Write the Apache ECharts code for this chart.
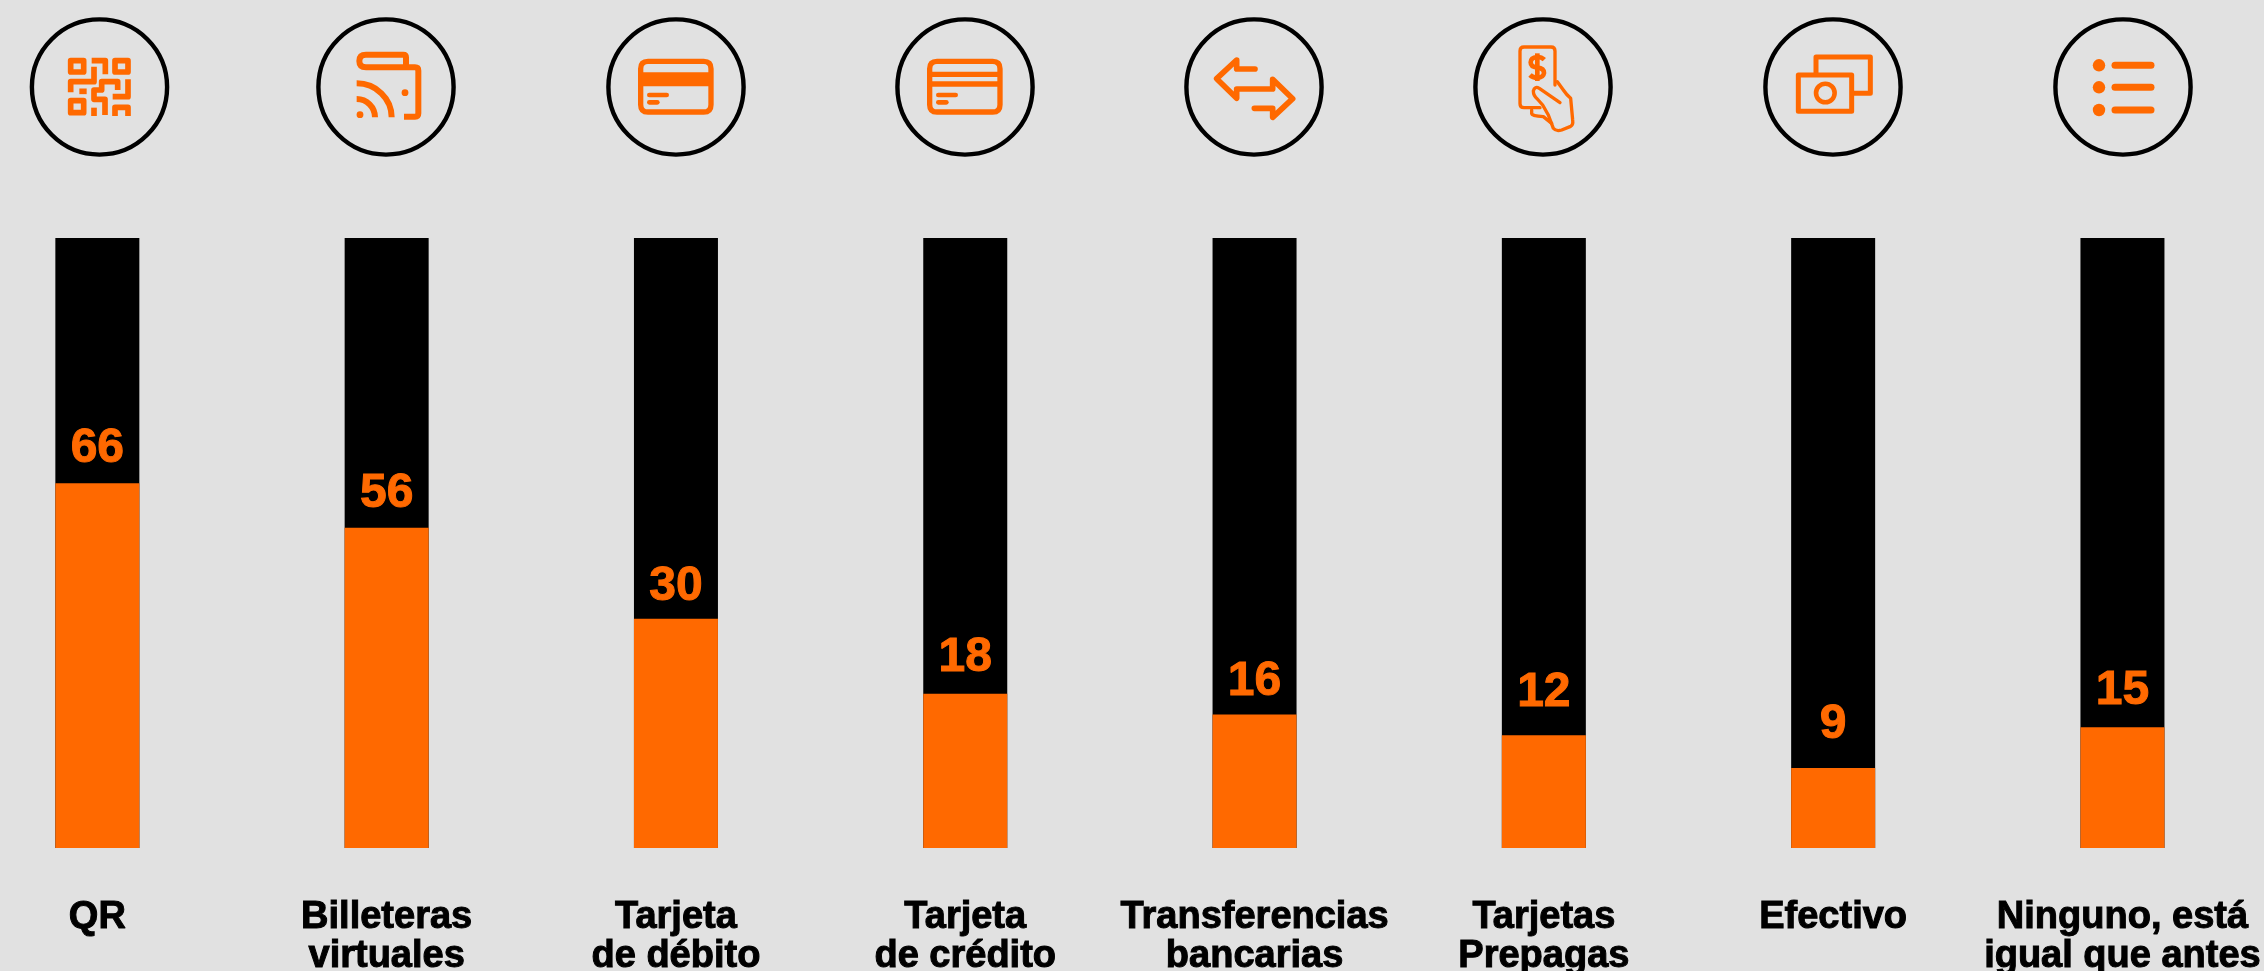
<!DOCTYPE html>
<html><head><meta charset="utf-8">
<style>html,body{margin:0;padding:0;background:#e1e1e1}#c{width:2264px;height:971px}</style>
<script src="https://cdn.jsdelivr.net/npm/echarts@6/dist/echarts.min.js"></script>
</head><body><div id="c"></div>
<script>
const categories = ['QR','Billeteras\nvirtuales','Tarjeta\nde débito','Tarjeta\nde crédito','Transferencias\nbancarias','Tarjetas\nPrepagas','Efectivo','Ninguno, está\nigual que antes'];
// Printed figures on the chart
const printedValues = [66,56,30,18,16,12,9,15];
// Drawn orange share of each column (the source's bars are not proportional to the printed figures)
const drawnFill = [59.8,52.5,37.6,25.3,21.9,18.5,13.1,19.8];
const columnTotal = [100,100,100,100,100,100,100,100];
// Downward nudge of each printed figure relative to the top of its orange part (px)
const labelNudge = [2,2,4,0,3,-6,-7,0];

const ORANGE = '#ff6900', BLACK = '#000000', BG = '#e1e1e1';
const iconCentersX = [99.5,386,676,965,1254,1543,1833,2123];
const iconCenterY = 87;

const QR = ['M62 62H101V96H62Z','M195 62H234V96H195Z','M62 182H101V218H62Z','M125 62H166V103','M132 80V125H62V157','M88 154H110',
  'M203 150V125H155V150H132V178H165V225','M234 118V170H188','M195 228V202H234V228','M132 203V228'];
const WALLET = ['M198 82V52Q198 44 190 44H78Q58 44 58 63Q58 82 78 82H225Q235 82 235 92V220Q235 230 225 230H192',
  'M50 130A105 102 0 0 1 155 232','M50 177A55 55 0 0 1 105 232'];
const CARD_OUT = 'M54 34H221Q243 34 243 56V164Q243 186 221 186H54Q32 186 32 164V56Q32 34 54 34Z';
const ARROWS = ['M165 87H110V60L50 116L110 175V147H218V118L278 176L218 232V205H163'];
const HAND = ['M120 218H72Q60 218 60 206V48Q60 36 72 36H153Q165 36 165 48V150',
  'M180 203L118 160Q104 152 100 168Q100 182 112 192L128 210L145 240L160 280Q168 290 185 285L212 274Q220 270 218 255L212 190Q200 180 190 165L172 140',
  'M95 225V236Q96 243 130 245L155 265'];
const DOLLAR = ['M133 74Q125 66 112 66Q92 68 92 82Q92 96 112 98Q132 100 132 114Q130 128 112 128Q98 128 90 120','M112 55V138'];
const CASH = ['M93 90V36H256V145H205','M40 90H200V199H40Z'];

const shapeNames = new Map();
function shapeFor(d){
  if(!shapeNames.has(d)){
    const name = 'iconPath' + shapeNames.size;
    echarts.graphic.registerShape(name, echarts.graphic.extendPath(d, {}));
    shapeNames.set(d, name);
  }
  return shapeNames.get(d);
}
function strokes(paths, ox, oy, lw, cap){
  return paths.map(p => ({type:shapeFor(p), x:ox, y:oy, scaleX:1/3, scaleY:1/3, silent:true,
    style:{fill:null, stroke:ORANGE, lineWidth:lw, lineCap:cap||'butt', lineJoin:'round'}}));
}
function dots(list, ox, oy, r){
  return list.map(d => ({type:'circle', silent:true, shape:{cx:ox+d[0]/3, cy:oy+d[1]/3, r:r}, style:{fill:ORANGE}}));
}
const g = [];
iconCentersX.forEach(cx => g.push({type:'circle', silent:true, shape:{cx, cy:iconCenterY, r:67.6}, style:{fill:null, stroke:BLACK, lineWidth:4.4}}));
g.push(...strokes(QR,50,40,17));
g.push(...strokes(WALLET,340,40,18), ...dots([[195,158],[60,224]],340,40,3.4));
g.push(...strokes([CARD_OUT],630,50,16), ...strokes(['M35 88H240'],630,50,42), ...strokes(['M58 135H110','M58 157H82'],630,50,14,'round'));
g.push(...strokes([CARD_OUT,'M32 73H243','M32 102H243'],919,50,16), ...strokes(['M58 135H110','M58 157H82'],919,50,14,'round'));
g.push(...strokes(ARROWS,1200,40,17,'round'));
g.push(...strokes(HAND,1500,35,10,'round'));
g.push(...strokes(DOLLAR,1500,35,14));
g.push(...strokes(CASH,1785,45,15));
g.push({type:'circle', silent:true, shape:{cx:1785+121/3, cy:45+144/3, r:9.3}, style:{fill:null, stroke:ORANGE, lineWidth:4.6}});
[65.3,87.3,110].forEach(y => {
  g.push({type:'circle', silent:true, shape:{cx:2099, cy:y, r:6.2}, style:{fill:ORANGE}});
  g.push({type:'line', silent:true, shape:{x1:2115, y1:y, x2:2151, y2:y}, style:{stroke:ORANGE, lineWidth:7, lineCap:'round'}});
});

const chart = echarts.init(document.getElementById('c'), null, {renderer:'canvas', width:2264, height:971});
chart.setOption({
  backgroundColor: BG,
  animation:false,
  grid:{left:-47.3, width:2314.4, top:238, height:610, containLabel:false, outerBoundsMode:'none'},
  xAxis:{type:'category', data:categories,
    axisLine:{show:false}, axisTick:{show:false}, splitLine:{show:false},
    axisLabel:{interval:0, hideOverlap:false, margin:50, color:BLACK, fontFamily:'Liberation Sans', fontWeight:'bold', fontSize:38, lineHeight:39, verticalAlign:'top',
      textBorderColor:BLACK, textBorderWidth:1}},
  yAxis:{type:'value', min:0, max:100, show:false, splitLine:{show:false}},
  series:[
    {type:'bar', name:'Total', data:columnTotal, barWidth:84, barGap:'-100%', itemStyle:{color:BLACK}, silent:true},
    {type:'bar', name:'Share', barWidth:84, barGap:'-100%', itemStyle:{color:ORANGE}, silent:true,
     data:drawnFill.map((v,i)=>({value:v, label:{offset:[0,labelNudge[i]]}})),
     label:{show:true, position:'top', distance:12, color:ORANGE, fontFamily:'Liberation Sans', fontWeight:'bold', fontSize:48,
       textBorderColor:ORANGE, textBorderWidth:1,
       formatter:p => String(printedValues[p.dataIndex])}}
  ],
  graphic:{elements:g}
});
</script></body></html>
